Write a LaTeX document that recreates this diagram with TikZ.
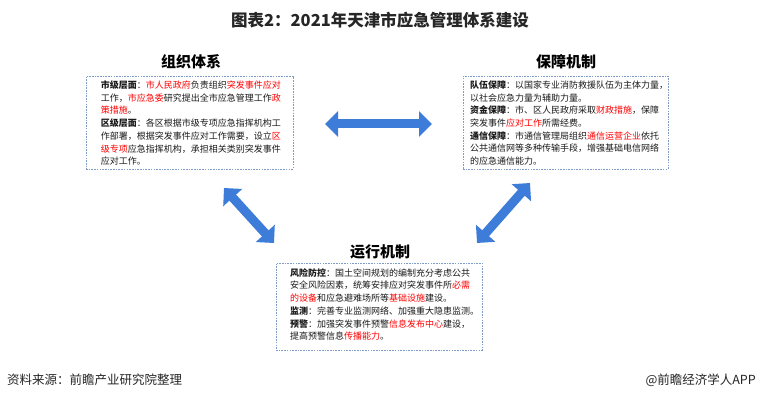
\documentclass[tikz,border=0pt]{standalone}
\usepackage{fontspec}
\setmainfont{Noto Sans CJK SC}
\usetikzlibrary{arrows.meta}
\definecolor{arrowblue}{HTML}{3D7CD8}
\definecolor{arrowedge}{HTML}{6A9FE3}
\definecolor{boxline}{HTML}{7F9CC8}
\definecolor{hired}{HTML}{FF0000}
\definecolor{txt}{HTML}{1A1A1A}
\definecolor{titlegray}{HTML}{262626}
\newcommand{\rd}[1]{\textcolor{hired}{#1}}
\newcommand{\lb}[1]{\textbf{#1}}
\tikzset{
  infobox/.style={draw=boxline, line width=0.8pt, dash pattern=on 1.6pt off 1.1pt, rectangle, inner sep=0pt},
  bodytext/.style={anchor=north west, align=left, inner sep=0pt, text=txt, font=\fontsize{9}{12.7}\selectfont},
  secttitle/.style={font=\bfseries\fontsize{15}{18}\selectfont, text=black, inner sep=0pt},
  bigarrow/.style={draw=arrowblue, line width=9pt, {Triangle[width=25pt,length=13pt,fill=arrowblue]}-{Triangle[width=25pt,length=13pt,fill=arrowblue]}},
  foot/.style={font=\fontsize{12.5}{14}\selectfont, text=titlegray, inner sep=0pt}
}
\begin{document}
\begin{tikzpicture}[x=1pt,y=-1pt]
\useasboundingbox[fill=white] (0,0) rectangle (760,401);
% title
\node[font=\bfseries\fontsize{16.5}{19}\selectfont, text=titlegray, inner sep=0pt] (title) at (380,20) {图表2：2021年天津市应急管理体系建设};
% section titles
\node[secttitle] (h1) at (191,62) {组织体系};
\node[secttitle] (h2) at (566,62) {保障机制};
\node[secttitle] (h3) at (380,252) {运行机制};
% boxes
\node[infobox, minimum width=207pt, minimum height=93pt] (b1) at (189.5,122.5) {};
\node[infobox, minimum width=205pt, minimum height=93pt] (b2) at (565.5,122.5) {};
\node[infobox, minimum width=206pt, minimum height=87pt] (b3) at (379,306.5) {};
% texts
\node[bodytext] (t1) at (100.7,80.5) {\lb{市级层面}：\rd{市人民政府}负责组织\rd{突发事件应对}\\
工作，\rd{市应急委}研究提出全市应急管理工作\rd{政}\\
\rd{策措施}。\\
\lb{区级层面}：各区根据市级专项应急指挥机构工\\
作部署，根据突发事件应对工作需要，设立\rd{区}\\
\rd{级专项}应急指挥机构，承担相关类别突发事件\\
应对工作。};
\node[bodytext] (t2) at (470,80.5) {\lb{队伍保障}：以国家专业消防救援队伍为主体力量，\\
以社会应急力量为辅助力量。\\
\lb{资金保障}：市、区人民政府采取\rd{财政措施}，保障\\
突发事件\rd{应对工作}所需经费。\\
\lb{通信保障}：市通信管理局组织\rd{通信运营企业}依托\\
公共通信网等多种传输手段，增强基础电信网络\\
的应急通信能力。};
\node[bodytext] (t3) at (290,268.2) {\lb{风险防控}：国土空间规划的编制充分考虑公共\\
安全风险因素，统筹安排应对突发事件所\rd{必需}\\
\rd{的设备}和应急避难场所等\rd{基础设施}建设。\\
\lb{监测}：完善专业监测网络、加强重大隐患监测。\\
\lb{预警}：加强突发事件预警\rd{信息发布中心}建设，\\
提高预警信息\rd{传播能力}。};
% arrows
\coordinate (ha) at (325,124);
\coordinate (hb) at (432,124);
\coordinate (la) at (224,188);
\coordinate (lb) at (274,243);
\coordinate (ra) at (530,183);
\coordinate (rb) at (477,243);
\draw[bigarrow] (ha) -- (hb);
\draw[bigarrow] (la) -- (lb);
\draw[bigarrow] (ra) -- (rb);
% footer
\node[foot, anchor=west] (src) at (7,380) {资料来源：前瞻产业研究院整理};
\node[foot, anchor=east] (app) at (756,380) {@前瞻经济学人APP};
\end{tikzpicture}
\end{document}
